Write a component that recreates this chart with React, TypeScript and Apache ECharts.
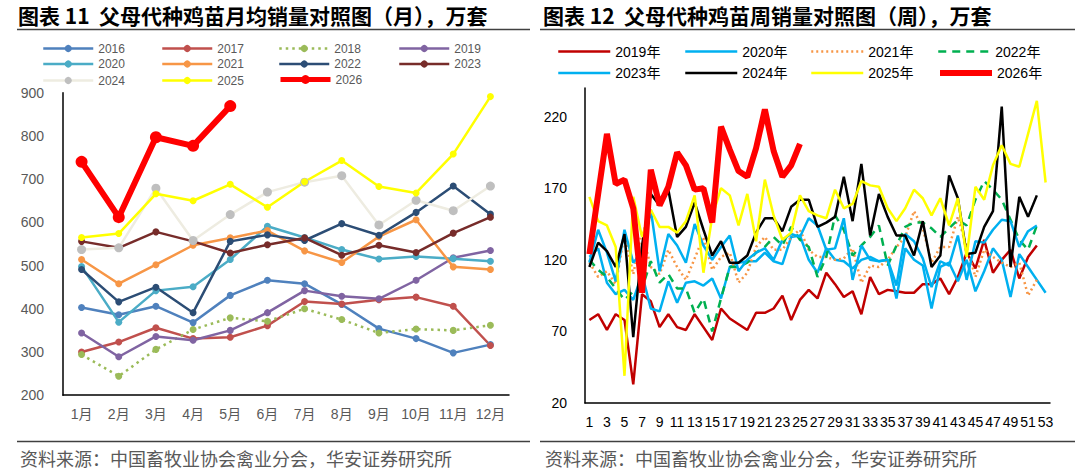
import React, { useEffect, useRef } from 'react';
import * as echarts from 'echarts';

// ---------- Left chart (monthly) ----------
const months = ['1月', '2月', '3月', '4月', '5月', '6月', '7月', '8月', '9月', '10月', '11月', '12月'];
const leftYTicks = [200, 300, 400, 500, 600, 700, 800, 900];

const m2016 = [403, 386, 406, 368, 431, 466, 458, 410, 354, 331, 298, 317];
const m2017 = [300, 323, 356, 331, 334, 361, 417, 411, 421, 427, 406, 315];
const m2018 = [294, 244, 306, 352, 379, 371, 400, 375, 344, 353, 350, 362];
const m2019 = [344, 289, 336, 327, 350, 391, 442, 429, 423, 466, 518, 535];
const m2020 = [498, 369, 442, 451, 514, 591, 565, 537, 515, 521, 516, 510];
const m2021 = [514, 458, 502, 547, 564, 581, 534, 507, 567, 606, 497, 491];
const m2022 = [491, 416, 450, 391, 556, 571, 558, 597, 570, 623, 684, 619];
const m2023 = [556, 541, 578, 556, 529, 548, 564, 524, 547, 530, 575, 612];
const m2024 = [537, 541, 679, 558, 618, 670, 693, 708, 594, 651, 627, 684];
const m2025 = [565, 574, 666, 650, 688, 635, 694, 743, 683, 668, 758, 891];
const m2026 = [740, 612, 797, 777, 869];

// ---------- Right chart (weekly) ----------
const weeks = ['1', '2', '3', '4', '5', '6', '7', '8', '9', '10', '11', '12', '13', '14', '15', '16', '17', '18', '19', '20', '21', '22', '23', '24', '25', '26', '27', '28', '29', '30', '31', '32', '33', '34', '35', '36', '37', '38', '39', '40', '41', '42', '43', '44', '45', '46', '47', '48', '49', '50', '51', '52', '53'];
const rightYLabels = [20, 70, 120, 170, 220];

const w2019 = [78, 82, 71, 82, 78, 33, 96, 91, 73, 82, 73, 71, 82, 73, 64, 86, 79, 75, 71, 83, 83, 86, 95, 78, 92, 99, 93, 111, 103, 94, 98, 82, 108, 96, 99, 98, 97, 97, 103, 103, 107, 96, 108, 125, 114, 134, 111, 120, 127, 107, 122, 130];
const w2020 = [122, 128, 104, 96, 99, 92, 110, 86, 84, 105, 90, 104, 105, 102, 107, 93, 115, 118, 119, 119, 125, 119, 117, 136, 137, 120, 111, 128, 120, 119, 114, 120, 122, 119, 120, 93, 128, 120, 116, 86, 115, 118, 105, 120, 98, 112, 128, 120, 94, 124, 115, 106, 97];
const w2021 = [118, 108, 112, 103, 138, 110, 140, 115, 110, 127, 115, 106, 121, 136, 113, 122, 125, 104, 111, 129, 136, 127, 127, 136, 141, 127, 122, 122, 120, 121, 128, 104, 116, 115, 120, 129, 136, 154, 142, 118, 129, 129, 150, 129, 108, 127, 122, 118, 115, 118, 95, 106];
const w2022 = [120, 113, 108, 100, 92, 98, 100, 119, 104, 110, 100, 100, 83, 93, 70, 93, 115, 115, 118, 125, 129, 136, 130, 143, 134, 129, 108, 122, 151, 141, 123, 130, 136, 144, 116, 130, 143, 146, 146, 142, 136, 142, 148, 144, 162, 175, 169, 162, 148, 134, 127, 144];
const w2023 = [118, 141, 125, 105, 141, 118, 125, 155, 112, 138, 130, 118, 145, 130, 120, 129, 137, 112, 120, 125, 128, 120, 134, 138, 136, 149, 144, 127, 128, 149, 106, 130, 120, 119, 120, 102, 138, 133, 121, 101, 119, 116, 137, 106, 133, 132, 141, 148, 147, 129, 140, 144];
const w2024 = [115, 132, 126, 115, 138, 66, 130, 166, 158, 169, 136, 143, 160, 141, 123, 133, 118, 118, 123, 139, 149, 149, 140, 157, 162, 162, 143, 146, 150, 178, 147, 187, 137, 166, 150, 137, 137, 123, 147, 115, 123, 179, 163, 124, 125, 143, 154, 227, 115, 164, 150, 165];
const w2025 = [164, 147, 144, 129, 39, 164, 136, 155, 143, 143, 139, 147, 165, 111, 150, 170, 165, 144, 166, 133, 176, 151, 134, 139, 165, 154, 151, 149, 169, 156, 159, 175, 172, 171, 156, 147, 156, 169, 163, 151, 163, 144, 163, 122, 171, 162, 186, 200, 187, 185, 208, 231, 174];
const w2026 = [124, 166, 208, 173, 176, 156, 97, 183, 158, 171, 195, 186, 169, 170, 146, 213, 197, 182, 178, 198, 225, 196, 178, 186, 201];

const TITLE_L = '图表 11  父母代种鸡苗月均销量对照图（月），万套';
const TITLE_R = '图表 12  父母代种鸡苗周销量对照图（周），万套';
const SOURCE = '资料来源：中国畜牧业协会禽业分会，华安证券研究所';

const FONT = "'Liberation Sans', Arial, 'Noto Sans CJK SC', sans-serif";
const CJK = "'Noto Sans CJK SC', sans-serif";

export default function App() {
  const ref = useRef<HTMLDivElement>(null);

  useEffect(() => {
    document.body.style.margin = '0';
    if (!ref.current) return;
    const chart = echarts.init(ref.current, undefined, { renderer: 'svg' });

    const leftDefs = [
      { name: '2016', data: m2016, color: '#4f81bd' },
      { name: '2017', data: m2017, color: '#c0504d' },
      { name: '2018', data: m2018, color: '#9bbb59', dotted: true },
      { name: '2019', data: m2019, color: '#8064a2' },
      { name: '2020', data: m2020, color: '#4bacc6' },
      { name: '2021', data: m2021, color: '#f79646' },
      { name: '2022', data: m2022, color: '#2c4d75' },
      { name: '2023', data: m2023, color: '#772c2a' },
      { name: '2024', data: m2024, color: '#eeece1', marker: '#bfbfbf' },
      { name: '2025', data: m2025, color: '#ffff00' },
      { name: '2026', data: m2026, color: '#ff0000', thick: true },
    ];

    const rightDefs = [
      { name: '2019年', data: w2019, color: '#c00000' },
      { name: '2020年', data: w2020, color: '#00b0f0' },
      { name: '2021年', data: w2021, color: '#f79646', type: [2, 3] },
      { name: '2022年', data: w2022, color: '#00b050', type: [8, 6] },
      { name: '2023年', data: w2023, color: '#00b0f0' },
      { name: '2024年', data: w2024, color: '#000000' },
      { name: '2025年', data: w2025, color: '#ffff00' },
      { name: '2026年', data: w2026, color: '#ff0000', thick: true },
    ];

    const leftSeries = leftDefs.map((d: any) => ({
      type: 'line',
      name: d.name,
      xAxisIndex: 0,
      yAxisIndex: 0,
      data: d.data,
      symbol: 'circle',
      symbolSize: d.thick ? 12 : d.marker ? 9 : 7,
      lineStyle: { color: d.color, width: d.thick ? 6 : 2.5, type: d.dotted ? [2.5, 4] : 'solid' },
      itemStyle: { color: d.marker || d.color },
      emphasis: { disabled: true },
    }));

    const rightSeries = rightDefs.map((d: any) => ({
      type: 'line',
      name: d.name,
      xAxisIndex: 1,
      yAxisIndex: 1,
      data: d.data,
      symbol: 'none',
      showSymbol: false,
      lineStyle: { color: d.color, width: d.thick ? 6 : 2.5, type: d.type || 'solid' },
      itemStyle: { color: d.color },
      emphasis: { disabled: true },
    }));

    const leftCols = [42, 161, 278, 398];
    const leftRows = [47, 62.5, 79];
    const leftLegends = leftDefs.map((d: any, i) => ({
      data: [{ name: d.name, lineStyle: { width: d.thick ? 5 : 2.5 } }],
      left: leftCols[i % 4],
      top: leftRows[Math.floor(i / 4)] - (d.thick ? 5.5 : 4.5),
      itemWidth: 50,
      itemHeight: d.thick ? 11 : 9,
      itemGap: 0,
      padding: 0,
      selectedMode: false,
      textStyle: { color: '#595959', fontSize: 12, fontFamily: FONT },
    }));

    const rightCols = [557, 684, 810, 937];
    const rightRows = [49.5, 71];
    const rightLegends = rightDefs.map((d: any, i) => ({
      data: [{ name: d.name, lineStyle: { width: d.thick ? 6 : 2.5 } }],
      left: rightCols[i % 4],
      top: rightRows[Math.floor(i / 4)] - 5,
      itemWidth: 52,
      itemHeight: 10,
      itemGap: 0,
      padding: 0,
      selectedMode: false,
      itemStyle: { opacity: 0 },
      textStyle: { color: '#000', fontSize: 14, fontFamily: FONT },
    }));

    const option: any = {
      animation: false,
      textStyle: { fontFamily: FONT },
      grid: [
        { left: 63, top: 92.7, width: 446, height: 302.5 },
        { left: 585, top: 88, width: 465, height: 315 },
      ],
      xAxis: [
        {
          type: 'category', gridIndex: 0, data: months, boundaryGap: true,
          axisLine: { lineStyle: { color: '#000', width: 1.5 } },
          axisTick: { show: false },
          axisLabel: { color: '#595959', fontSize: 14, margin: 12, interval: 0, fontFamily: FONT },
        },
        {
          type: 'category', gridIndex: 1, data: weeks, boundaryGap: true,
          axisLine: { lineStyle: { color: '#000', width: 1.5 } },
          axisTick: { show: false },
          axisLabel: { color: '#000', fontSize: 14, margin: 12, interval: 1, fontFamily: FONT },
        },
      ],
      yAxis: [
        {
          type: 'value', gridIndex: 0, min: leftYTicks[0], max: leftYTicks[leftYTicks.length - 1], interval: 100,
          axisLine: { show: true, lineStyle: { color: '#000', width: 1.5 } },
          axisTick: { show: false },
          splitLine: { show: false },
          axisLabel: { color: '#595959', fontSize: 14, margin: 19, fontFamily: FONT },
        },
        {
          type: 'value', gridIndex: 1, min: 20, max: 240, interval: 10,
          axisLine: { show: true, lineStyle: { color: '#000', width: 1.5 } },
          axisTick: { show: false },
          splitLine: { show: false },
          axisLabel: {
            color: '#000', fontSize: 14, margin: 18, fontFamily: FONT,
            formatter: (v: number) => (rightYLabels.indexOf(v) >= 0 ? String(v) : ''),
          },
        },
      ],
      legend: [...leftLegends, ...rightLegends],
      series: [...leftSeries, ...rightSeries],
      graphic: [
        { type: 'text', x: 18, y: 15, style: { text: TITLE_L, fontSize: 21, fontWeight: 'bold', fontFamily: CJK, fill: '#000', verticalAlign: 'middle' } },
        { type: 'text', x: 543, y: 15, style: { text: TITLE_R, fontSize: 21, fontWeight: 'bold', fontFamily: CJK, fill: '#000', verticalAlign: 'middle' } },
        { type: 'line', shape: { x1: 17, y1: 29.5, x2: 530, y2: 29.5 }, style: { stroke: '#404040', lineWidth: 1.5 } },
        { type: 'line', shape: { x1: 540, y1: 29.5, x2: 1075, y2: 29.5 }, style: { stroke: '#404040', lineWidth: 1.5 } },
        { type: 'line', shape: { x1: 17, y1: 441.5, x2: 530, y2: 441.5 }, style: { stroke: '#404040', lineWidth: 1.5 } },
        { type: 'line', shape: { x1: 540, y1: 441.5, x2: 1075, y2: 441.5 }, style: { stroke: '#404040', lineWidth: 1.5 } },
        { type: 'text', x: 20, y: 458, style: { text: SOURCE, fontSize: 18, fontFamily: CJK, fill: '#595959', verticalAlign: 'middle' } },
        { type: 'text', x: 545, y: 458, style: { text: SOURCE, fontSize: 18, fontFamily: CJK, fill: '#595959', verticalAlign: 'middle' } },
      ],
    };

    chart.setOption(option);
    return () => chart.dispose();
  }, []);

  return <div ref={ref} style={{ width: 1080, height: 475 }} />;
}
